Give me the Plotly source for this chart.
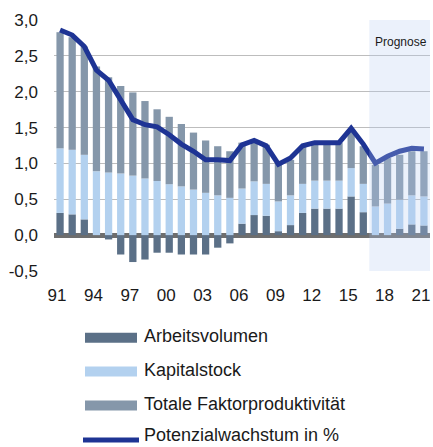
import plotly.graph_objects as go

# ---- data ----
years = list(range(1991, 2022))
arbeitsvolumen = [0.31, 0.29, 0.22, 0.0, -0.06, -0.27, -0.375, -0.34, -0.245, -0.245,
                  -0.27, -0.27, -0.27, -0.175, -0.115, 0.16, 0.28, 0.27, 0.055, 0.14,
                  0.31, 0.37, 0.37, 0.37, 0.54, 0.32, 0.0, 0.0, 0.09, 0.15, 0.135]
kapitalstock = [0.90, 0.90, 0.90, 0.89, 0.875, 0.86, 0.83, 0.79, 0.755, 0.71,
                0.68, 0.635, 0.59, 0.555, 0.52, 0.49, 0.47, 0.445, 0.415, 0.415,
                0.405, 0.39, 0.39, 0.39, 0.395, 0.395, 0.40, 0.44, 0.405, 0.405, 0.405]
tfp = [1.62, 1.57, 1.51, 1.46, 1.325, 1.22, 1.16, 1.08, 1.00, 0.94,
       0.87, 0.795, 0.73, 0.685, 0.65, 0.64, 0.58, 0.545, 0.535, 0.495,
       0.53, 0.53, 0.53, 0.53, 0.535, 0.525, 0.58, 0.635, 0.625, 0.615, 0.63]
potenzial = [2.86, 2.79, 2.63, 2.30, 2.16, 1.88, 1.61, 1.54, 1.51, 1.40,
             1.27, 1.17, 1.05, 1.05, 1.04, 1.26, 1.32, 1.245, 0.99, 1.075,
             1.245, 1.29, 1.29, 1.29, 1.49, 1.27, 1.005, 1.10, 1.17, 1.21, 1.20]

x_tick_years = [1991, 1994, 1997, 2000, 2003, 2006, 2009, 2012, 2015, 2018, 2021]
x_tick_labels = ["91", "94", "97", "00", "03", "06", "09", "12", "15", "18", "21"]
y_tick_values = [-0.5, 0.0, 0.5, 1.0, 1.5, 2.0, 2.5, 3.0]
y_tick_labels = ["-0,5", "0,0", "0,5", "1,0", "1,5", "2,0", "2,5", "3,0"]

series_names = ["Arbeitsvolumen", "Kapitalstock", "Totale Faktorproduktivität",
                "Potenzialwachstum in %"]
forecast_start = 2017
forecast_label = "Prognose"

# ---- styles ----
C_AV = "#5B7087"
C_KS = "#B3D1EF"
C_TFP = "#8597AA"
C_LINE = "#1E3494"
FONT = "Liberation Sans, Arial, sans-serif"
TXT = "#1a1a1a"

fig = go.Figure()
for name, vals, col in [(series_names[0], arbeitsvolumen, C_AV),
                        (series_names[1], kapitalstock, C_KS),
                        (series_names[2], tfp, C_TFP)]:
    fig.add_trace(go.Bar(x=years, y=vals, name=name, marker=dict(color=col, line=dict(width=0)),
                         showlegend=False))
fig.add_trace(go.Scatter(x=years, y=potenzial, name=series_names[3], mode="lines",
                         line=dict(color=C_LINE, width=5), showlegend=False))

# forecast shading
fig.add_shape(type="rect", xref="x", yref="paper", x0=forecast_start - 0.5, x1=years[-1] + 0.5,
              y0=0, y1=1, fillcolor="rgba(180,205,240,0.27)", line=dict(width=0), layer="above")
fig.add_annotation(x=(forecast_start + years[-1]) / 2 + 0.1, y=0.912, xref="x", yref="paper",
                   text=forecast_label, showarrow=False, font=dict(size=12, color=TXT, family=FONT),
                   xanchor="center", yanchor="middle")

# custom legend
plot_w = 376.0
plot_h = 251.0
swatch_rows_px = [337.7, 371.5, 405.5, 440.0]
text_rows_px = [336.0, 370.0, 404.0, 435.5]
sw_x0 = 31 / plot_w
sw_x1 = 83 / plot_w
txt_x = 87.5 / plot_w
for i, (name, col) in enumerate(zip(series_names, [C_AV, C_KS, C_TFP, C_LINE])):
    py = -(swatch_rows_px[i] - 271) / plot_h
    ty = -(text_rows_px[i] - 271) / plot_h
    if i < 3:
        fig.add_shape(type="rect", xref="paper", yref="paper", x0=sw_x0, x1=sw_x1,
                      y0=py - 5 / plot_h, y1=py + 5 / plot_h, fillcolor=col, line=dict(width=0))
    else:
        fig.add_shape(type="line", xref="paper", yref="paper", x0=sw_x0 - 2 / plot_w, x1=sw_x1 + 2 / plot_w,
                      y0=py, y1=py, line=dict(color=col, width=5))
    fig.add_annotation(x=txt_x, y=ty, xref="paper", yref="paper", text=name, showarrow=False,
                       xanchor="left", yanchor="middle", font=dict(size=18, color=TXT, family=FONT))

fig.update_layout(
    width=433, height=447,
    margin=dict(l=54, r=3, t=20, b=176),
    barmode="relative", bargap=0.4,
    plot_bgcolor="white", paper_bgcolor="white",
    font=dict(family=FONT, color=TXT, size=17),
    showlegend=False,
)
fig.update_xaxes(range=[years[0] - 0.5, years[-1] + 0.5], tickvals=x_tick_years, ticktext=x_tick_labels,
                 showgrid=False, zeroline=False, showline=False, ticks="", ticklabelstandoff=12,
                 ticklabelshift=-3, ticklabeloverflow="allow",
                 tickfont=dict(size=17, color=TXT, family=FONT))
fig.update_yaxes(range=[-0.5, 3.0], tickvals=y_tick_values, ticktext=y_tick_labels,
                 showgrid=True, gridcolor="#BDBDBD", gridwidth=1,
                 zeroline=True, zerolinecolor="#6E6E6E", zerolinewidth=5,
                 showline=False, ticks="", ticklabelstandoff=15,
                 tickfont=dict(size=17, color=TXT, family=FONT))

fig.write_html("out.html", config={"displayModeBar": False},
               post_script="document.body.style.margin='0';document.body.style.padding='0';")
